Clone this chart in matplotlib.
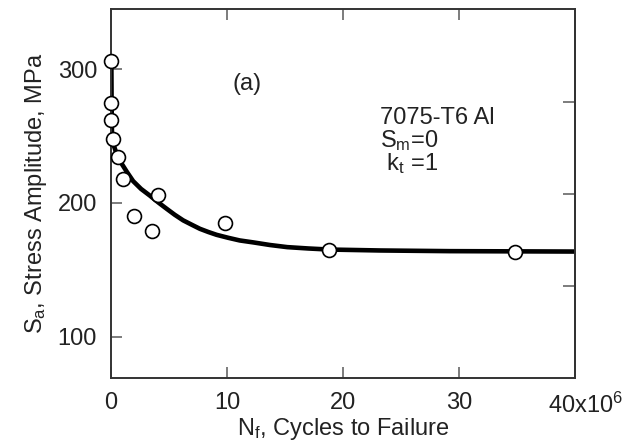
import matplotlib
matplotlib.use('Agg')
import matplotlib.pyplot as plt
from matplotlib.transforms import ScaledTranslation

plt.rcParams['font.family'] = ['Liberation Sans', 'DejaVu Sans']
plt.rcParams['mathtext.default'] = 'regular'

# test points: N_f in millions of cycles, S_a in MPa
cycles = [0.05, 0.05, 0.05, 0.15, 0.6, 1.05, 2.0, 3.55, 4.1, 9.8, 18.8, 34.8]
stress = [306, 274.5, 262, 248, 234, 218, 190, 179, 206, 185, 164.5, 163.5]

# fitted S-N curve
curve_n = [0.04, 0.06, 0.09, 0.26, 0.6, 0.92, 1.38, 1.92, 2.6, 3.36, 4.1, 4.8,
           5.5, 6.23, 7.0, 7.67, 8.4, 9.11, 10.1, 11.1, 12.3, 13.7, 15.2, 17,
           18.8, 23.2, 29.2, 40]
curve_s = [306, 275, 253.5, 242.7, 234, 229.5, 223.2, 216.3, 210.5, 205.5, 200.3, 195.7,
           191.2, 187, 183.6, 180.7, 178.3, 176.2, 174, 172, 170.5, 168.6, 167, 166,
           165.2, 164.5, 164, 163.7]

xticks = [0, 10, 20, 30, 40]
xlabels = ['0', '10', '20', '30', '40x10$^6$']
yticks = [100, 200, 300]
ksi_ticks = [20, 30, 40]
MPA_PER_KSI = 6.895

fig = plt.figure(figsize=(6.23, 4.43), dpi=100)
ax = fig.add_axes([0.178, 0.146, 0.745, 0.833])

ax.plot(curve_n, curve_s, color='black', lw=3.3, solid_capstyle='butt',
        solid_joinstyle='round', zorder=2)
ax.plot(cycles, stress, 'o', ms=10, mfc='white', mec='black', mew=1.2,
        clip_on=False, zorder=3)

ax.set_xlim(0, 40)
ax.set_ylim(10 * MPA_PER_KSI, 50 * MPA_PER_KSI)
ax.set_xticks(xticks)
ax.set_xticklabels(xlabels)
ax.set_yticks(yticks)

ax.tick_params(direction='in', length=8, width=1.2, color='#666666',
               labelsize=17, labelcolor='#222222', top=True)
ax.tick_params(axis='x', pad=10)
ax.tick_params(axis='y', pad=10)

# last label sits a bit to the right like in the book figure
last = ax.get_xticklabels()[-1]
last.set_transform(last.get_transform() + ScaledTranslation(0.11, 0, fig.dpi_scale_trans))

for sp in ax.spines.values():
    sp.set_color('#333333')
    sp.set_linewidth(1.4)

# right axis in ksi, ticks only
sec = ax.secondary_yaxis('right', functions=(lambda m: m / MPA_PER_KSI,
                                             lambda k: k * MPA_PER_KSI))
sec.set_yticks(ksi_ticks)
sec.set_yticklabels([])
sec.tick_params(direction='in', length=9, width=1.2, color='#666666')
sec.spines['right'].set_color('#333333')
sec.spines['right'].set_linewidth(1.4)

ax.set_xlabel('N$_f$, Cycles to Failure', fontsize=17, color='#222222', labelpad=-1)
ax.set_ylabel('S$_a$, Stress Amplitude, MPa', fontsize=17, color='#222222', labelpad=6)

ax.text(0.263, 0.78, '(a)', transform=ax.transAxes, fontsize=17, color='#222222')
ax.text(0.580, 0.689, '7075-T6 Al', transform=ax.transAxes, fontsize=17, color='#222222')
ax.text(0.580, 0.626, 'S$_m$=0', transform=ax.transAxes, fontsize=17, color='#222222')
ax.text(0.580, 0.563, ' k$_t$ =1', transform=ax.transAxes, fontsize=17, color='#222222')

fig.savefig('out.png', dpi=100)
